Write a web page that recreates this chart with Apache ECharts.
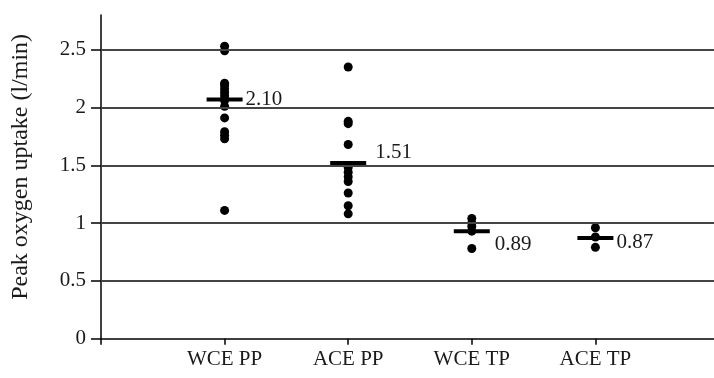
<!DOCTYPE html>
<html>
<head>
<meta charset="utf-8">
<script src="https://cdn.jsdelivr.net/npm/echarts@6/dist/echarts.min.js"></script>
<style>
  html, body { margin: 0; padding: 0; background: #fff; }
  #chart { width: 714px; height: 378px; }
</style>
</head>
<body>
<div id="chart"></div>
<script>
// groups on the x axis
var categories = ['WCE PP', 'ACE PP', 'WCE TP', 'ACE TP']
// individual peak oxygen uptake values (l/min)
var wcePP = [2.53, 2.49, 2.21, 2.19, 2.16, 2.13, 2.10, 2.06, 2.01, 1.91, 1.79, 1.76, 1.73, 1.11]
var acePP = [2.35, 1.88, 1.86, 1.68, 1.48, 1.44, 1.40, 1.36, 1.26, 1.15, 1.08]
var wceTP = [1.04, 1.00, 0.97, 0.93, 0.78]
var aceTP = [0.96, 0.88, 0.79]
// group mean markers (where drawn) and their printed labels
var meanMarks = [2.07, 1.52, 0.93, 0.87]
var meanLabels = ['2.10', '1.51', '0.89', '0.87']
// y axis: drawn range and labelled ticks / grid lines
var yMax = 2.8
var yTickMax = 2.5
var yStep = 0.5
var gridValues = [0.5, 1, 1.5, 2, 2.5]

// label nudges for the mean text (style only)
var labelNudge = [[0, 0], [6, -10], [2, 13], [0, 4]]

var groups = [wcePP, acePP, wceTP, aceTP]
var font = 'Liberation Serif'
var textColor = '#1a1a1a'

var points = []
groups.forEach(function (g, i) {
  g.forEach(function (v) {
    points.push([i + 1, v])
  })
})

var means = meanMarks.map(function (v, i) {
  return {
    value: [i + 1, v],
    label: { offset: labelNudge[i] }
  }
})

var H = 378
var gLeft = 101, gRight = -5, gTop = 15, gBottom = 39.3
// second grid only carries the labelled y ticks, its top sits at yTickMax
var pxPerUnit = (H - gTop - gBottom) / yMax
var tickTop = gTop + (yMax - yTickMax) * pxPerUnit

var chart = echarts.init(document.getElementById('chart'), null, { renderer: 'canvas' })
var option = {
  backgroundColor: '#fff',
  animation: false,
  grid: [
    { left: gLeft, right: gRight, top: gTop, bottom: gBottom, outerBoundsMode: 'none' },
    { left: gLeft, right: gRight, top: tickTop, bottom: gBottom, outerBoundsMode: 'none' }
  ],
  xAxis: [
    {
      type: 'value',
      min: 0,
      max: categories.length + 1,
      interval: 1,
      axisLine: { lineStyle: { color: '#000', width: 1.5 } },
      axisTick: {
        show: true,
        length: 6,
        lineStyle: { color: '#000', width: 1.5 }
      },
      axisLabel: {
        formatter: function (v) { return categories[Math.round(v) - 1] || '' },
        color: textColor,
        fontFamily: font,
        fontSize: 21,
        margin: 10
      },
      splitLine: { show: false }
    },
    { type: 'value', gridIndex: 1, min: 0, max: categories.length + 1, show: false }
  ],
  yAxis: [
    {
      type: 'value',
      min: 0,
      max: yMax,
      name: 'Peak oxygen uptake (l/min)',
      nameLocation: 'middle',
      nameGap: 68,
      nameTextStyle: { color: textColor, fontFamily: font, fontSize: 24, padding: [0, 0, 0, 20] },
      axisLine: { show: true, lineStyle: { color: '#000', width: 1.5 } },
      axisTick: { show: false },
      axisLabel: { show: false },
      splitLine: { show: false }
    },
    {
      type: 'value',
      gridIndex: 1,
      min: 0,
      max: yTickMax,
      interval: yStep,
      axisLine: { show: false },
      axisTick: {
        show: true,
        length: 10,
        lineStyle: { color: '#000', width: 1.5 }
      },
      axisLabel: {
        formatter: function (v) { return String(v) },
        color: textColor,
        fontFamily: font,
        fontSize: 21,
        margin: 15
      },
      splitLine: { show: false }
    }
  ],
  series: [
    {
      type: 'scatter',
      symbol: 'circle',
      symbolSize: 9,
      itemStyle: { color: '#000', opacity: 1 },
      data: points,
      z: 3,
      markLine: {
        silent: true,
        symbol: 'none',
        label: { show: false },
        lineStyle: { type: 'solid', color: '#444', width: 2 },
        data: gridValues.map(function (v) { return { yAxis: v } })
      }
    },
    {
      type: 'scatter',
      symbol: 'rect',
      symbolSize: [36, 4],
      itemStyle: { color: '#000', opacity: 1 },
      z: 4,
      label: {
        show: true,
        position: 'right',
        distance: 3,
        color: textColor,
        fontFamily: font,
        fontSize: 21,
        formatter: function (p) { return meanLabels[p.dataIndex] }
      },
      data: means
    }
  ]
}
chart.setOption(option)
</script>
</body>
</html>
